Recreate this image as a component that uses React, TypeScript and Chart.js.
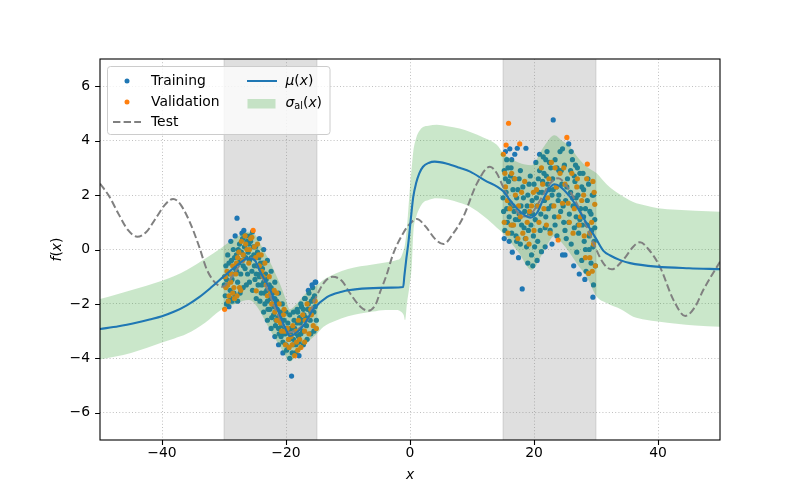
import React, { useEffect, useRef } from 'react';
import { Chart, registerables } from 'chart.js';

Chart.register(...registerables);

// ---- axis ranges & ticks ----
const X_MIN = -50;
const X_MAX = 50;
const Y_MIN = -7;
const Y_MAX = 7;
const xTicks = [-40, -20, 0, 20, 40];
const yTicks = [-6, -4, -2, 0, 2, 4, 6];

// ---- shaded training regions ----
const shadedSpans: number[][] = [
  [-30, -15],
  [15, 30],
];

// ---- Test function (dashed) ----
const testX = [-50, -48.5, -47, -45.5, -44, -42.5, -41, -39.5, -38.2, -37, -35.5, -34, -32.8, -31.5, -30.3, -29, -28, -27, -26, -25.2, -24.4, -23.4, -22.4, -21.4, -20.4, -19.4, -18.6, -17.6, -16.4, -15.6, -14.5, -13.5, -12.5, -11, -9.7, -8, -6.7, -5.5, -4.8, -3.8, -2.7, -1.1, 0, 1.1, 2.5, 4, 5.4, 7, 8.6, 10.8, 12.9, 14, 15, 16.5, 18.3, 19.5, 21, 22.5, 23.9, 25.5, 27.4, 29.6, 31.2, 32.5, 34.5, 36, 37.1, 38.5, 40.3, 42.5, 44.4, 46, 47.3, 50];
const testY = [2.42, 1.95, 1.3, 0.72, 0.47, 0.65, 1.15, 1.65, 1.86, 1.65, 1.0, 0.1, -0.72, -1.2, -1.37, -1.1, -0.75, -0.45, -0.3, -0.35, -0.7, -1.25, -1.8, -2.35, -2.8, -3.05, -3.0, -2.85, -2.55, -2.0, -1.45, -1.12, -1.0, -1.15, -1.6, -2.1, -2.25, -2.0, -1.55, -0.95, -0.15, 0.6, 0.95, 1.12, 0.85, 0.4, 0.2, 0.6, 1.2, 2.43, 3.04, 2.8, 2.31, 1.65, 1.21, 1.3, 1.82, 2.4, 2.62, 2.25, 1.45, 0.23, -0.51, -0.73, -0.35, 0.1, 0.27, 0.0, -0.63, -1.86, -2.44, -2.1, -1.49, -0.45];

// ---- predictive mean mu(x) ----
const meanX = [-50, -47, -44, -42, -40, -38, -36, -34, -32, -30, -28, -26.1, -25, -24.2, -22.6, -21, -20, -19.4, -18.3, -17.2, -15.6, -13.4, -11, -9.7, -6.9, -3, -1.1, -0.9, -0.6, -0.27, 0.1, 0.53, 1.0, 1.5, 2.1, 3.0, 4.0, 6, 8, 9.7, 12, 15, 16.1, 17.5, 19.4, 20.5, 21.5, 22.5, 23.3, 24, 25.8, 26.9, 28.5, 30, 31.2, 32.3, 33.9, 35.5, 39.8, 45, 50];
const meanY = [-2.92, -2.82, -2.68, -2.57, -2.45, -2.28, -2.05, -1.75, -1.38, -0.98, -0.6, -0.32, -0.4, -0.8, -1.45, -2.4, -2.95, -3.18, -3.05, -2.8, -2.2, -1.75, -1.55, -1.49, -1.43, -1.4, -1.38, -0.95, -0.35, 0.23, 1.05, 1.94, 2.45, 2.8, 3.04, 3.18, 3.23, 3.15, 3.0, 2.86, 2.55, 2.15, 1.82, 1.45, 1.17, 1.35, 1.85, 2.25, 2.4, 2.35, 1.94, 1.57, 0.96, 0.4, -0.05, -0.22, -0.39, -0.5, -0.63, -0.69, -0.72];

// ---- aleatoric band sigma_al(x) ----
const bandX = [-50, -47.5, -45, -42.5, -40, -38, -36, -33, -30.5, -28, -26, -25, -24, -22.6, -21, -20, -19.4, -18.5, -17, -16, -15, -14, -12, -10, -8, -6, -4, -2, -1.5, -1.0, -0.8, -0.5, 0, 0.27, 0.53, 1.0, 1.5, 2.1, 3, 4.3, 6, 8, 9.7, 12, 14, 15, 17.5, 19.6, 21.5, 23.3, 24.5, 25.8, 27, 28.5, 30.1, 31.7, 34, 36, 38, 40, 43, 46, 50];
const bandUpper = [-1.82, -1.66, -1.5, -1.33, -1.15, -0.97, -0.75, -0.33, 0.05, 0.45, 0.65, 0.55, 0.15, -0.45, -1.25, -1.85, -2.2, -2.05, -1.65, -1.45, -1.3, -1.12, -0.88, -0.72, -0.62, -0.55, -0.48, -0.38, -0.3, 0.0, 0.2, 0.8, 2.3, 3.0, 3.6, 4.1, 4.35, 4.5, 4.55, 4.58, 4.53, 4.45, 4.32, 4.1, 3.85, 3.55, 3.2, 3.1, 3.75, 4.2, 4.0, 3.78, 3.4, 3.04, 2.8, 2.4, 2.0, 1.75, 1.62, 1.52, 1.46, 1.42, 1.39];
const bandLower = [-4.04, -3.93, -3.8, -3.62, -3.42, -3.27, -3.1, -2.68, -2.22, -1.98, -1.86, -2.0, -2.35, -2.95, -3.55, -3.95, -4.12, -3.95, -3.55, -3.3, -3.1, -2.85, -2.62, -2.45, -2.35, -2.28, -2.22, -2.22, -2.28, -2.42, -2.6, -2.0, -1.2, -0.63, 0.6, 1.2, 1.5, 1.72, 1.82, 1.88, 1.85, 1.72, 1.57, 1.2, 0.8, 0.6, -0.1, -0.75, -0.1, 0.5, 0.25, -0.14, -0.55, -1.0, -1.73, -1.97, -2.2, -2.47, -2.58, -2.65, -2.73, -2.79, -2.84];

// ---- Training samples ----
const trainPoints: number[][] = [
  [-29.9, -1.0], [-29.8, -1.7], [-29.7, -0.6], [-29.5, -1.3], [-29.4, -0.2], [-29.3, -1.9], [-29.1, -0.9], [-29.0, -1.5], [-28.8, -0.4], [-28.7, -1.1],
  [-28.5, 0.0], [-28.4, -1.6], [-28.2, -0.7], [-28.0, -0.2], [-27.9, 1.15], [-27.8, -1.2], [-27.6, -0.5], [-27.5, 0.2], [-27.3, -0.9], [-27.2, -0.1],
  [-27.0, 0.4], [-26.9, -0.6], [-26.7, 0.1], [-26.5, -0.3], [-26.4, 0.5], [-26.2, -0.9], [-26.0, 0.2], [-25.9, -0.4], [-25.7, 0.3], [-25.5, -0.8],
  [-25.4, 0.65], [-25.2, -0.2], [-25.0, -1.1], [-24.9, 0.1], [-24.7, -0.6], [-24.5, -1.3], [-24.4, -0.3], [-24.2, -0.9], [-24.0, -1.6], [-23.8, -0.7],
  [-23.6, -1.2], [-23.4, -2.0], [-23.3, -0.9], [-23.1, -1.5], [-22.9, -2.2], [-22.7, -1.3], [-22.5, -1.8], [-22.3, -2.5], [-22.1, -1.6], [-21.9, -2.1],
  [-21.7, -2.8], [-21.5, -1.9], [-21.3, -2.5], [-21.1, -3.1], [-20.9, -2.3], [-20.7, -2.8], [-20.5, -3.4], [-20.3, -2.6], [-20.1, -3.1], [-19.9, -3.7],
  [-19.7, -2.7], [-19.5, -3.3], [-19.4, -4.0], [-19.2, -2.9], [-19.1, -4.65], [-18.9, -3.5], [-18.7, -2.6], [-18.5, -3.8], [-18.3, -3.1], [-18.1, -2.3],
  [-17.9, -3.4], [-17.7, -2.7], [-17.5, -2.1], [-17.3, -3.0], [-17.1, -2.4], [-16.9, -1.8], [-16.7, -2.8], [-16.5, -2.2], [-16.3, -1.6], [-16.1, -2.6],
  [-15.9, -1.9], [-15.7, -1.4], [-15.5, -2.3], [-15.4, -1.7], [-15.2, -1.2], [-15.1, -2.6],
  [-29.95, -1.3], [-29.6, -1.1], [-29.2, -0.5], [-28.9, -1.8], [-28.6, -0.9], [-28.3, -0.3], [-27.95, -0.8], [-27.7, 0.0], [-27.4, -0.4], [-27.1, 0.6],
  [-26.85, -0.2], [-26.6, -0.7], [-26.3, 0.3], [-26.1, -0.1], [-25.8, 0.5], [-25.6, -0.3], [-25.3, 0.1], [-25.1, -0.6], [-24.8, -0.9], [-24.6, -0.1],
  [-24.3, -1.0], [-24.1, -0.5], [-23.9, -1.3], [-23.7, -0.5], [-23.5, -1.6], [-23.2, -1.1], [-23.0, -1.9], [-22.8, -1.5], [-22.6, -2.2], [-22.4, -1.4],
  [-22.2, -2.0], [-22.0, -2.4], [-21.8, -1.8], [-21.6, -2.6], [-21.4, -2.2], [-21.2, -2.9], [-21.0, -2.5], [-20.8, -3.2], [-20.6, -2.6], [-20.4, -3.1],
  [-20.2, -2.9], [-20.0, -3.5], [-19.8, -3.0], [-19.6, -3.6], [-19.3, -3.1], [-19.0, -3.8], [-18.8, -3.3], [-18.6, -2.9], [-18.4, -3.5], [-18.2, -2.7],
  [-18.0, -3.2], [-17.8, -2.5], [-17.6, -3.1], [-17.4, -2.6], [-17.2, -2.2], [-16.8, -2.5], [-16.4, -2.0], [-16.0, -2.3], [-15.6, -1.8], [-15.3, -2.1],
  [-29.6, -2.0], [-29.2, -2.1], [-28.7, -1.9], [-28.2, -1.7], [-27.8, -1.9], [-27.4, -1.6], [-26.9, -1.4], [-26.4, -1.3], [-25.9, -1.2], [-25.4, -1.5],
  [-24.8, -1.8], [-24.2, -1.9], [-23.6, -2.3], [-23.0, -2.6], [-22.4, -2.9], [-21.8, -3.2], [-21.2, -3.5], [-20.5, -3.8], [-17.9, -3.9], [-17.2, -3.5],
  [-16.6, -3.3], [-16.0, -3.1], [-15.5, -3.0], [-28.9, 0.3], [-28.2, 0.5], [-26.8, 0.7], [-24.3, 0.4], [-23.6, 0.0], [-23.0, -0.4], [-22.4, -0.8],
  [-21.8, -1.2], [-21.2, -1.6], [-20.6, -2.0], [-20.0, -2.3], [-19.4, -2.4], [-18.8, -2.3], [-18.2, -2.2], [-17.6, -2.0], [-17.0, -1.8], [-16.4, -1.5],
  [-15.8, -1.3], [-15.3, -1.2],
  [15.1, 1.4], [15.2, 2.9], [15.3, 0.7], [15.5, 2.1], [15.6, 3.3], [15.7, 1.0], [15.9, 2.5], [16.0, 0.3], [16.2, 1.7], [16.3, 3.0],
  [16.5, 0.9], [16.6, 2.2], [16.8, 1.4], [16.9, 3.5], [17.1, 0.5], [17.2, 1.9], [17.3, 3.72], [17.5, 1.1], [17.6, 2.6], [17.8, 0.2],
  [17.9, 1.6], [18.1, -1.45], [18.2, 2.3], [18.4, 0.8], [18.5, 1.4], [18.7, 3.72], [18.8, 0.1], [19.0, 2.0], [19.1, 0.7], [19.3, 1.3],
  [19.4, 2.7], [19.6, -0.2], [19.7, 1.8], [19.9, 0.5], [20.0, 2.4], [20.2, 1.1], [20.3, 3.2], [20.5, 1.6], [20.6, 0.3], [20.8, 2.1],
  [20.9, 2.9], [21.1, 1.3], [21.2, -0.08], [21.4, 2.5], [21.5, 3.4], [21.7, 1.8], [21.8, 0.8], [22.0, 2.7], [22.1, 3.6], [22.3, 1.5],
  [22.4, 2.2], [22.6, 0.7], [22.7, 3.0], [22.9, 2.0], [23.0, 2.6], [23.1, 4.76], [23.3, 1.2], [23.4, 3.3], [23.6, 2.3], [23.7, 0.5],
  [23.9, 1.8], [24.0, 2.9], [24.2, 3.6], [24.3, 1.4], [24.5, 2.4], [24.6, -0.2], [24.8, 1.0], [24.9, 3.1], [25.1, 1.8], [25.2, 0.4],
  [25.4, 2.6], [25.6, 3.88], [25.7, 1.3], [25.9, 2.1], [26.0, 0.2], [26.2, 3.3], [26.3, 1.6], [26.5, 0.8], [26.6, 2.5], [26.8, 1.2],
  [26.9, -0.1], [27.1, 2.0], [27.2, 0.6], [27.4, 2.8], [27.5, 1.5], [27.7, -0.4], [27.8, 0.9], [28.0, 2.2], [28.1, 0.3], [28.3, 1.5],
  [28.4, -0.8], [28.6, 0.9], [28.7, 2.6], [28.9, 0.0], [29.0, 1.4], [29.2, -0.5], [29.3, 0.7], [29.4, 2.0], [29.5, -1.75], [29.6, -1.3],
  [29.7, 0.3], [29.8, 1.1], [29.9, -0.6],
  [15.0, 1.9], [15.2, 0.4], [15.4, 2.6], [15.6, 1.5], [15.8, 3.0], [16.0, 1.2], [16.2, 2.7], [16.4, 0.6], [16.6, 1.6], [16.8, 2.6],
  [17.0, 1.1], [17.2, 0.3], [17.4, 2.2], [17.6, 1.3], [17.8, 2.9], [18.0, 0.9], [18.3, 1.9], [18.6, 0.4], [18.9, 1.6], [19.2, 2.4],
  [19.5, 0.9], [19.8, 1.3], [20.1, 0.1], [20.4, 1.9], [20.7, 2.6], [21.0, 0.7], [21.3, 2.1], [21.6, 2.8], [21.9, 1.2], [22.2, 2.4],
  [22.5, 3.2], [22.8, 1.6], [23.1, 2.2], [23.4, 0.9], [23.7, 3.0], [24.0, 2.0], [24.4, 2.9], [24.7, 1.6], [25.0, 0.7], [25.3, 2.3],
  [25.6, 1.0], [25.9, 2.9], [26.2, 1.9], [26.5, 2.7], [26.8, 1.9], [27.1, 0.9], [27.4, 1.1], [27.7, 2.3], [28.0, 1.2], [28.3, 0.0],
  [28.6, 1.8], [28.9, 0.5], [29.2, 1.3], [29.5, 0.1], [29.8, 0.8], [27.0, 3.0], [19.0, -0.5], [16.4, 3.3], [22.9, 0.2], [26.0, 3.6],
  [16.5, -0.1], [17.5, -0.3], [19.8, -0.6], [20.5, -0.4], [21.8, 0.1], [25.0, -0.2], [26.4, -0.6], [27.3, -0.9], [28.2, -1.1], [15.4, 3.6],
  [16.1, 3.7], [20.9, 3.5], [21.9, 3.3], [24.6, 3.7], [26.7, 3.1], [27.9, 2.8], [28.8, 2.4], [29.6, 2.0],
];

// ---- Validation samples ----
const valPoints: number[][] = [
  [-29.9, -2.2], [-29.7, -1.4], [-29.5, -0.8], [-29.2, -1.7], [-28.9, -1.2], [-28.6, -0.6], [-28.3, -1.8], [-28.1, -0.9], [-27.8, -0.3], [-27.5, -1.4],
  [-27.2, 0.3], [-26.9, -0.2], [-26.6, 0.5], [-26.3, 0.0], [-26.0, -0.5], [-25.7, 0.4], [-25.3, 0.7], [-25.1, 0.1], [-24.8, -1.52], [-24.6, 0.2],
  [-24.3, -0.6], [-24.0, -0.2], [-23.7, -1.0], [-23.4, -0.5], [-23.0, -1.7], [-22.7, -1.0], [-22.3, -2.0], [-21.9, -1.5], [-21.5, -2.6], [-21.1, -2.0],
  [-20.7, -3.0], [-20.4, -2.4], [-20.1, -3.5], [-19.8, -2.9], [-19.5, -3.6], [-19.2, -3.2], [-18.9, -2.8], [-18.6, -3.9], [-18.3, -3.4], [-18.0, -2.6],
  [-17.6, -3.6], [-17.3, -2.4], [-17.0, -3.0], [-16.6, -2.0], [-16.3, -3.1], [-15.9, -2.4], [-15.6, -2.8], [-15.3, -1.9], [-15.1, -2.9],
  [-29.8, -1.0], [-29.4, -1.3], [-28.8, -0.9], [-28.4, -1.4], [-28.0, -0.5], [-27.6, -0.1], [-27.0, -0.4], [-26.5, 0.2], [-25.9, 0.0], [-25.5, 0.45],
  [-24.9, -0.3], [-24.4, -0.2], [-23.9, -0.8], [-23.2, -1.3], [-22.5, -1.6], [-21.8, -2.3], [-21.3, -2.6], [-20.9, -2.7], [-20.2, -3.0], [-19.6, -3.3],
  [-19.0, -3.5], [-18.4, -3.0], [-17.8, -3.3], [-16.9, -2.6], [-16.0, -2.2],
  [-29.3, -1.9], [-28.6, -1.6], [-27.9, -1.7], [-27.3, -1.5], [-21.5, -1.6], [-20.3, -2.2], [-18.1, -3.7], [-17.0, -3.4],
  [15.05, 3.5], [15.5, 3.84], [15.9, 4.64], [15.2, 1.0], [15.4, 2.3], [15.8, 0.6], [16.1, 1.5], [16.4, 2.8], [16.7, 0.9], [17.0, 2.0],
  [17.4, 0.4], [17.7, 3.88], [17.8, 1.2], [18.2, 0.6], [18.5, 2.5], [18.9, 1.0], [19.2, 0.2], [19.6, 1.6], [20.0, 0.7], [20.4, 2.2],
  [20.8, 1.0], [21.2, 3.0], [21.6, 1.5], [22.0, 0.9], [22.4, 2.6], [22.8, 3.2], [23.2, 1.6], [23.6, 2.3], [23.9, 0.35], [24.2, 2.8],
  [24.6, 1.7], [25.0, 2.4], [25.3, 4.12], [25.7, 1.0], [26.1, 2.8], [26.5, 1.5], [26.9, 2.3], [27.3, 0.9], [27.7, 1.8], [28.1, 0.5],
  [28.5, 2.6], [28.6, 3.14], [28.8, -0.88], [29.0, -0.3], [29.3, 1.0], [29.5, 2.5], [29.8, 1.66], [29.9, -0.6], [29.6, 0.2],
  [15.3, 2.8], [15.7, 1.8], [16.3, 0.9], [16.9, 2.6], [17.5, 1.6], [18.0, 2.1], [18.7, 0.4], [19.3, 1.4], [19.9, 2.1], [20.6, 1.6],
  [21.4, 2.4], [22.2, 1.9], [22.6, 0.6], [23.4, 3.0], [24.0, 1.2], [24.8, 3.0], [25.5, 1.7], [26.3, 0.6], [27.0, 2.6], [27.5, 1.2],
  [28.0, 2.0], [28.3, -0.3], [29.0, 0.6], [29.4, -0.8], [29.7, 2.1],
];

const BLUE = '#1f77b4';
const ORANGE = '#ff7f0e';
const GREEN_FILL = 'rgba(44,160,44,0.25)';
const TEST_GRAY = '#808080';
const FONT = '"DejaVu Sans", sans-serif';
const FS = 13.9;

const toXY = (xs: number[], ys: number[]) => xs.map((x, i) => ({ x, y: ys[i] }));
const pts = (p: number[][]) => p.map(([x, y]) => ({ x, y }));
const fmt = (v: number) => String(v).replace('-', '\u2212');

type Run = { t: string; it?: boolean; sc?: number; dy?: number };

function drawRuns(ctx: CanvasRenderingContext2D, runs: Run[], x: number, y: number, measureOnly = false) {
  let cx = x;
  for (const r of runs) {
    const size = FS * (r.sc ?? 1);
    ctx.font = `${r.it ? 'italic ' : ''}${size}px ${FONT}`;
    if (!measureOnly) ctx.fillText(r.t, cx, y + (r.dy ?? 0));
    cx += ctx.measureText(r.t).width;
  }
  return cx - x;
}

const decorPlugin = {
  id: 'decor',
  beforeDatasetsDraw(chart: any) {
    const { ctx, chartArea: a, scales } = chart;
    const xs = scales.x;
    ctx.save();
    ctx.fillStyle = 'rgba(128,128,128,0.25)';
    ctx.strokeStyle = 'rgba(128,128,128,0.25)';
    ctx.lineWidth = 1;
    for (const [x0, x1] of shadedSpans) {
      const p0 = xs.getPixelForValue(x0);
      const p1 = xs.getPixelForValue(x1);
      ctx.fillRect(p0, a.top, p1 - p0, a.bottom - a.top);
      ctx.beginPath();
      ctx.moveTo(p0, a.top); ctx.lineTo(p0, a.bottom);
      ctx.moveTo(p1, a.top); ctx.lineTo(p1, a.bottom);
      ctx.stroke();
    }
    ctx.restore();
  },
  afterDraw(chart: any) {
    const { ctx, chartArea: a, scales } = chart;
    const xs = scales.x;
    const ys = scales.y;
    ctx.save();
    // frame
    ctx.strokeStyle = '#000';
    ctx.lineWidth = 1.1;
    ctx.strokeRect(a.left, a.top, a.right - a.left, a.bottom - a.top);
    // tick marks
    ctx.beginPath();
    for (const v of xTicks) {
      const p = Math.round(xs.getPixelForValue(v)) + 0.5;
      ctx.moveTo(p, a.bottom); ctx.lineTo(p, a.bottom + 4.9);
    }
    for (const v of yTicks) {
      const p = Math.round(ys.getPixelForValue(v)) + 0.5;
      ctx.moveTo(a.left, p); ctx.lineTo(a.left - 4.9, p);
    }
    ctx.stroke();

    // axis labels
    ctx.fillStyle = '#000';
    ctx.textBaseline = 'middle';
    const xl: Run[] = [{ t: 'x', it: true }];
    const wx = drawRuns(ctx, xl, 0, 0, true);
    drawRuns(ctx, xl, (a.left + a.right) / 2 - wx / 2, 475);
    const yl: Run[] = [{ t: 'f', it: true }, { t: '(' }, { t: 'x', it: true }, { t: ')' }];
    ctx.save();
    ctx.translate(57, (a.top + a.bottom) / 2);
    ctx.rotate(-Math.PI / 2);
    const wy = drawRuns(ctx, yl, 0, 0, true);
    drawRuns(ctx, yl, -wy / 2, 0);
    ctx.restore();

    // legend
    const L = 107.5, T = 66.5, R = 330, B = 134.5, rad = 3;
    ctx.beginPath();
    ctx.moveTo(L + rad, T);
    ctx.arcTo(R, T, R, B, rad);
    ctx.arcTo(R, B, L, B, rad);
    ctx.arcTo(L, B, L, T, rad);
    ctx.arcTo(L, T, R, T, rad);
    ctx.closePath();
    ctx.fillStyle = 'rgba(255,255,255,0.8)';
    ctx.fill();
    ctx.strokeStyle = '#cccccc';
    ctx.lineWidth = 1;
    ctx.stroke();

    const r1 = 81, r2 = 102, r3 = 122;
    ctx.fillStyle = BLUE;
    ctx.beginPath(); ctx.arc(127, r1, 2.5, 0, Math.PI * 2); ctx.fill();
    ctx.fillStyle = ORANGE;
    ctx.beginPath(); ctx.arc(127, r2, 2.5, 0, Math.PI * 2); ctx.fill();
    ctx.strokeStyle = TEST_GRAY;
    ctx.lineWidth = 2;
    ctx.setLineDash([7.4, 3.2]);
    ctx.beginPath(); ctx.moveTo(113, r3); ctx.lineTo(141, r3); ctx.stroke();
    ctx.setLineDash([]);
    ctx.strokeStyle = BLUE;
    ctx.beginPath(); ctx.moveTo(247, r1); ctx.lineTo(277, r1); ctx.stroke();
    ctx.fillStyle = GREEN_FILL;
    ctx.fillRect(247.5, 99, 28, 9.5);

    ctx.fillStyle = '#000';
    ctx.textBaseline = 'middle';
    drawRuns(ctx, [{ t: 'Training' }], 151, r1);
    drawRuns(ctx, [{ t: 'Validation' }], 151, r2);
    drawRuns(ctx, [{ t: 'Test' }], 151, r3);
    drawRuns(ctx, [{ t: 'μ', it: true }, { t: '(' }, { t: 'x', it: true }, { t: ')' }], 285.5, r1);
    drawRuns(ctx, [{ t: 'σ', it: true }, { t: 'al', sc: 0.7, dy: 3 }, { t: '(' }, { t: 'x', it: true }, { t: ')' }], 285.5, 103);
    ctx.restore();
  },
};

export default function App() {
  const ref = useRef<HTMLCanvasElement | null>(null);

  useEffect(() => {
    const canvas = ref.current;
    if (!canvas) return;
    const tickFont = { family: FONT, size: FS };
    const chart = new Chart(canvas, {
      type: 'line',
      data: {
        datasets: [
          {
            label: 'Training',
            data: pts(trainPoints),
            showLine: false,
            pointRadius: 2.6,
            pointBorderWidth: 0,
            pointBackgroundColor: BLUE,
            backgroundColor: BLUE,
            borderColor: BLUE,
            order: 10,
          },
          {
            label: 'Validation',
            data: pts(valPoints),
            showLine: false,
            pointRadius: 2.6,
            pointBorderWidth: 0,
            pointBackgroundColor: ORANGE,
            backgroundColor: ORANGE,
            borderColor: ORANGE,
            order: 9,
          },
          {
            label: 'upper',
            data: toXY(bandX, bandUpper),
            borderWidth: 0,
            borderColor: 'rgba(0,0,0,0)',
            pointRadius: 0,
            fill: false,
            cubicInterpolationMode: 'monotone',
            order: 8,
          },
          {
            label: 'sigma',
            data: toXY(bandX, bandLower),
            borderWidth: 0,
            borderColor: 'rgba(0,0,0,0)',
            backgroundColor: GREEN_FILL,
            pointRadius: 0,
            fill: '-1',
            cubicInterpolationMode: 'monotone',
            order: 7,
          },
          {
            label: 'Test',
            data: toXY(testX, testY),
            borderColor: TEST_GRAY,
            borderWidth: 2,
            borderDash: [7.4, 3.2],
            pointRadius: 0,
            fill: false,
            cubicInterpolationMode: 'monotone',
            order: 6,
          },
          {
            label: 'mu',
            data: toXY(meanX, meanY),
            borderColor: BLUE,
            borderWidth: 2.1,
            pointRadius: 0,
            fill: false,
            cubicInterpolationMode: 'monotone',
            order: 5,
          },
        ],
      } as any,
      options: {
        responsive: false,
        animation: false,
        events: [],
        devicePixelRatio: 1,
        layout: { padding: { top: 59, right: 80, left: 0, bottom: 0 } },
        plugins: {
          legend: { display: false },
          tooltip: { enabled: false },
        },
        scales: {
          x: {
            type: 'linear',
            min: X_MIN,
            max: X_MAX,
            afterFit: (s: any) => { s.height = 54; },
            afterBuildTicks: (s: any) => { s.ticks = xTicks.map((v) => ({ value: v })); },
            ticks: { font: tickFont, color: '#000', padding: 5, maxRotation: 0, autoSkip: false, callback: (v: any) => fmt(Number(v)) },
            grid: { color: '#b0b0b0', lineWidth: 0.8, drawTicks: false },
            border: { display: false, dash: [1, 2.2] },
          },
          y: {
            type: 'linear',
            min: Y_MIN,
            max: Y_MAX,
            afterFit: (s: any) => { s.width = 100; },
            afterBuildTicks: (s: any) => { s.ticks = yTicks.map((v) => ({ value: v })); },
            ticks: { font: tickFont, color: '#000', padding: 10, autoSkip: false, callback: (v: any) => fmt(Number(v)) },
            grid: { color: '#b0b0b0', lineWidth: 0.8, drawTicks: false },
            border: { display: false, dash: [1, 2.2] },
          },
        },
      } as any,
      plugins: [decorPlugin],
    });
    return () => chart.destroy();
  }, []);

  return (
    <div style={{ position: 'fixed', left: 0, top: 0, width: 800, height: 494, background: '#fff' }}>
      <canvas ref={ref} width={800} height={494} style={{ width: 800, height: 494, display: 'block' }} />
    </div>
  );
}
